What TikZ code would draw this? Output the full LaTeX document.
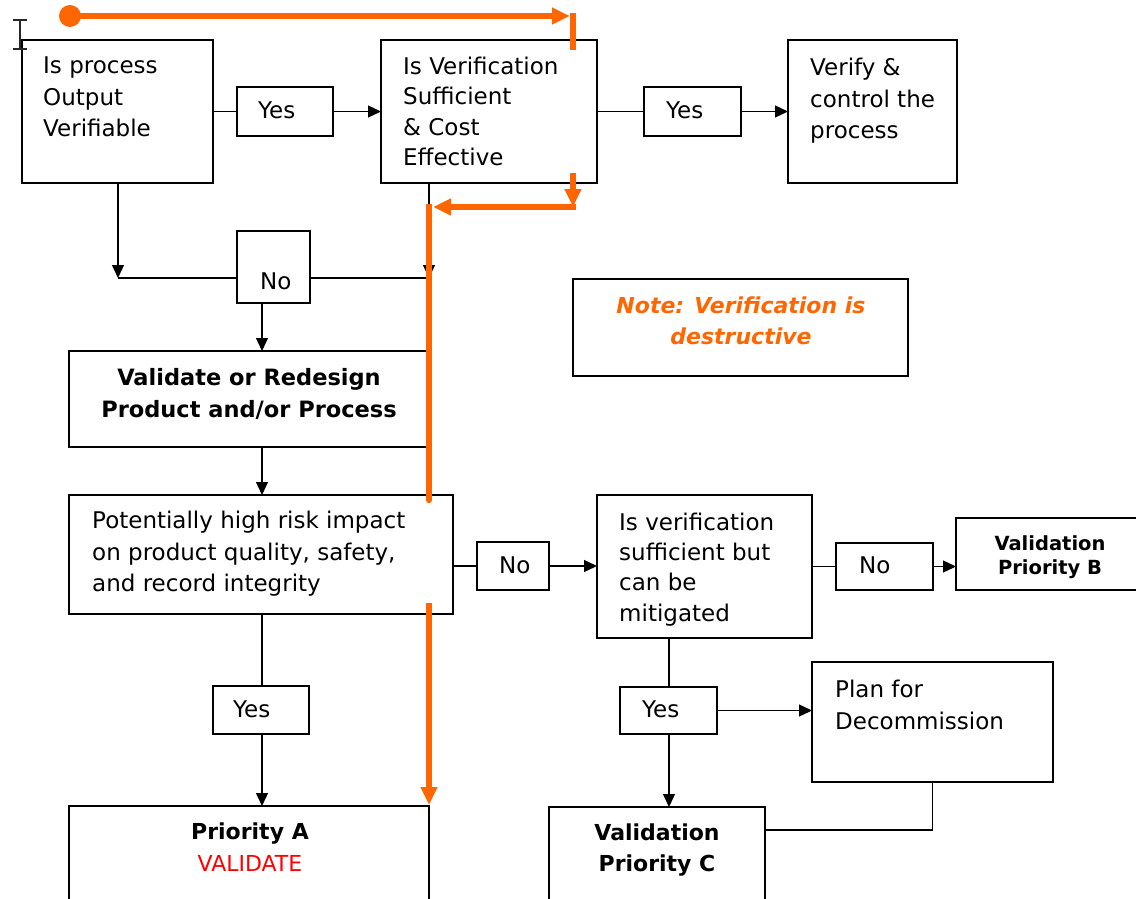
\documentclass[tikz,border=0pt]{standalone}
\usepackage{fontspec}
\setmainfont{DejaVu Sans}
\usetikzlibrary{arrows.meta}
\definecolor{org}{HTML}{FF6600}
\definecolor{vred}{HTML}{FF0000}
\begin{document}
\begin{tikzpicture}[x=1pt,y=-1pt,
  box/.style={draw, line width=1.3pt, inner sep=0pt, outer sep=0pt, anchor=north west},
  txt/.style={inner sep=0pt, align=left, anchor=north west, font=\fontsize{23}{31.5}\selectfont,
    execute at begin node={\rule{0pt}{20pt}}},
  btxt/.style={inner sep=0pt, align=center, anchor=north, font=\fontsize{22}{31.5}\selectfont\bfseries,
    execute at begin node={\rule{0pt}{20pt}}},
  conn/.style={line width=1.3pt},
  arr/.style={conn, -{Triangle[length=13pt,width=12pt]}},
  ob/.style={line width=6.5pt, draw=org},
  oarr/.style={ob, -{Triangle[length=18pt,width=16pt]}}]
\useasboundingbox (0,0) rectangle (1136,899);
\clip (0,0) rectangle (1136,899);
\fill[white] (0,0) rectangle (1136,899);

% boxes
\node[box, minimum width=191pt, minimum height=143pt] (b1) at (22,40) {};
\node[box, minimum width=96pt, minimum height=49pt] (y1) at (237,87) {};
\node[box, minimum width=216pt, minimum height=143pt] (b2) at (381,40) {};
\node[box, minimum width=97pt, minimum height=49pt] (y2) at (644,87) {};
\node[box, minimum width=169pt, minimum height=143pt] (b3) at (788,40) {};
\node[box, minimum width=73pt, minimum height=72pt] (no1) at (237,231) {};
\node[box, minimum width=360pt, minimum height=96pt] (val) at (69,351) {};
\node[box, minimum width=335pt, minimum height=97pt] (note) at (573,279) {};
\node[box, minimum width=384pt, minimum height=119pt] (risk) at (69,495) {};
\node[box, minimum width=72pt, minimum height=48pt] (no2) at (477,542) {};
\node[box, minimum width=215pt, minimum height=143pt] (mit) at (597,495) {};
\node[box, minimum width=97pt, minimum height=47pt] (no3) at (836,543) {};
\node[box, minimum width=220pt, minimum height=72pt] (vb) at (956,518) {};
\node[box, minimum width=96pt, minimum height=48pt] (y3) at (213,686) {};
\node[box, minimum width=97pt, minimum height=47pt] (y4) at (620,687) {};
\node[box, minimum width=241pt, minimum height=120pt] (plan) at (812,662) {};
\node[box, minimum width=360pt, minimum height=130pt] (pa) at (69,806) {};
\node[box, minimum width=216pt, minimum height=130pt] (vc) at (549,807) {};

% texts
\node[txt] (t1) at (43,57) {Is process\\Output\\Verifiable};
\node[txt] (ty1) at (258,98) {Yes};
\node[txt, font=\fontsize{23}{30.5}\selectfont] (t2) at (403,56.5) {Is Verification\\Sufficient\\\& Cost\\Effective};
\node[txt] (ty2) at (666,98) {Yes};
\node[txt] (t3) at (810,58) {Verify \&\\control the\\process};
\node[txt] (tno1) at (260,269) {No};
\node[btxt, font=\fontsize{22.5}{32}\selectfont\bfseries] (tval) at (249,368) {Validate or Redesign\\Product and/or Process};
\node[btxt, text=org, font=\fontsize{22}{31}\selectfont\bfseries\itshape] (tnote) at (741,297) {Note: Verification is\\destructive};
\node[txt, font=\fontsize{23}{31.5}\selectfont] (trisk) at (92,511) {Potentially high risk impact\\on product quality, safety,\\and record integrity};
\node[txt] (tno2) at (499,553) {No};
\node[txt, font=\fontsize{23}{30.3}\selectfont] (tmit) at (619,512.5) {Is verification\\sufficient but\\can be\\mitigated};
\node[txt] (tno3) at (859,553) {No};
\node[btxt, font=\fontsize{19.5}{24}\selectfont\bfseries] (tvb) at (1050,535) {Validation\\Priority B};
\node[txt] (ty3) at (233,697) {Yes};
\node[txt] (ty4) at (642,697) {Yes};
\node[txt] (tplan) at (835,680) {Plan for\\Decommission};
\node[btxt, font=\fontsize{22}{31.5}\selectfont\bfseries] (tpa) at (250,823) {Priority A\\{\color{vred}\mdseries VALIDATE}};
\node[btxt, font=\fontsize{22}{31}\selectfont\bfseries] (tvc) at (657,824) {Validation\\Priority C};

% helper coordinates
\coordinate (xa) at (262,0);
\coordinate (xb) at (669,0);
\coordinate (jl) at (118,278);
\coordinate (jr) at (429,278);
\coordinate (pc) at (932,830);

% connectors
\draw[conn] (b1.east) -- (y1.west);
\draw[arr] (y1.east) -- (b2.west);
\draw[conn] (b2.east) -- (y2.west);
\draw[arr] (y2.east) -- (b3.west);
\draw[arr] (b1.south -| jl) -- (jl);
\draw[conn] (jl) -- (jl -| no1.west);
\draw[conn] (jl -| no1.east) -- (jr);
\draw[arr] (b2.south -| jr) -- (jr);
\draw[arr] (no1.south -| xa) -- (val.north -| xa);
\draw[arr] (val.south -| xa) -- (risk.north -| xa);
\draw[conn] (risk.east |- no2.west) -- (no2.west);
\draw[arr] (no2.east) -- (no2.east -| mit.west);
\draw[conn] (mit.east |- no3.west) -- (no3.west);
\draw[arr] (no3.east) -- (no3.east -| vb.west);
\draw[conn] (risk.south -| xa) -- (y3.north -| xa);
\draw[arr] (y3.south -| xa) -- (pa.north -| xa);
\draw[conn] (mit.south -| xb) -- (y4.north -| xb);
\draw[arr] (y4.south -| xb) -- (vc.north -| xb);
\draw[arr] (y4.east) -- (y4.east -| plan.west);
\draw[conn] (plan.south) |- (pc -| vc.east);

% text cursor glyph
\draw[line width=1.6pt, black!85] (20,20) -- (20,49) (13,20) -- (27,20) (13,49) -- (27,49);

% orange path
\coordinate (o0) at (70,16);
\coordinate (o1) at (570,16);
\coordinate (o2) at (573,12.75);
\coordinate (o3) at (573,50);
\coordinate (o4) at (573,173);
\coordinate (o5) at (573,207);
\coordinate (o6) at (576,207);
\coordinate (o7) at (433,207);
\coordinate (o8) at (429,204);
\coordinate (o9) at (429,500);
\coordinate (o10) at (429,603);
\coordinate (o11) at (429,805);
\fill[org] (o0) circle (11pt);
\draw[oarr] (o0) -- (o1);
\draw[ob] (o2) -- (o3);
\draw[oarr] (o4) -- (o5);
\draw[oarr] (o6) -- (o7);
\draw[ob] (o8) -- (o9);
\draw[ob, line cap=round] (o9) -- ([yshift=0.1pt]o9);
\draw[oarr] (o10) -- (o11);
\end{tikzpicture}
\end{document}
